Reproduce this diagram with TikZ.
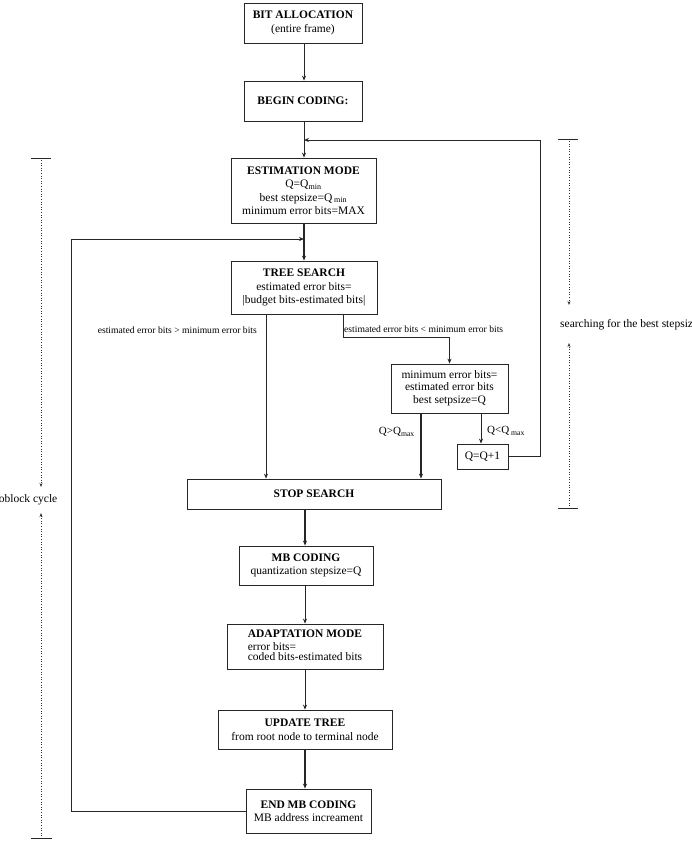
\documentclass[tikz,border=0pt]{standalone}
\usepackage{fontspec}
\setmainfont{Liberation Serif}
\usetikzlibrary{arrows.meta}
\begin{document}
\begin{tikzpicture}[x=1pt,y=-1pt,
  box/.style={draw=black!85, line width=0.8pt, align=center, inner sep=1pt,
    font=\fontsize{11.5}{13.5}\selectfont},
  flow/.style={draw=black!85, line width=0.8pt, -{Stealth[length=5pt,width=4pt]}},
  heavy/.style={flow, line width=1.1pt},
  plain/.style={draw=black!85, line width=0.8pt},
  lbl/.style={font=\fontsize{9.6}{11}\selectfont, inner sep=0pt},
  qlbl/.style={font=\fontsize{11}{13}\selectfont, inner sep=0pt},
  side/.style={font=\fontsize{11.5}{13.5}\selectfont, inner sep=0pt},
  brk/.style={draw=black!80, dotted, line width=0.6pt, -{Stealth[length=4pt,width=3pt]}},
  bar/.style={draw=black!85, line width=0.8pt}
]
\useasboundingbox (0,0) rectangle (691,849);
\clip (0,0) rectangle (691,849);

% boxes
\node[box, minimum width=118pt, minimum height=40pt] (bit) at (303,23)
  {\textbf{BIT ALLOCATION}\\(entire frame)};
\node[box, minimum width=118pt, minimum height=40pt] (begin) at (303,101)
  {\textbf{BEGIN CODING:}};
\node[box, minimum width=145pt, minimum height=65pt] (est) at (303.5,190.5)
  {\textbf{ESTIMATION MODE}\\Q=Q\textsubscript{min}\\best stepsize=Q\,\textsubscript{min}\\minimum error bits=MAX};
\node[box, minimum width=146pt, minimum height=53pt] (tree) at (304,287.5)
  {\textbf{TREE SEARCH}\\estimated error bits=\\|budget bits-estimated bits|};
\node[box, minimum width=117pt, minimum height=49pt] (minerr) at (449.5,388.5)
  {minimum error bits=\\[-2pt]estimated error bits\\best setpsize=Q};
\node[box, minimum width=51pt, minimum height=25pt] (qq) at (482.5,456.5)
  {Q=Q+1};
\node[box, minimum width=254pt, minimum height=30pt] (stop) at (314,494)
  {\textbf{STOP SEARCH}};
\node[box, minimum width=134pt, minimum height=39pt] (mb) at (306,565.5)
  {\textbf{MB CODING}\\quantization stepsize=Q};
\node[box, minimum width=156pt, minimum height=45pt] (adapt) at (305,646.5)
  {\begin{tabular}{@{}l@{}}\multicolumn{1}{@{}c@{}}{\textbf{ADAPTATION MODE}}\\[-1pt]error bits=\\[-3pt]coded bits-estimated bits\end{tabular}};
\node[box, minimum width=174pt, minimum height=39pt] (update) at (305,729.5)
  {\textbf{UPDATE TREE}\\from root node to terminal node};
\node[box, minimum width=125pt, minimum height=44pt] (end) at (308.5,811)
  {\textbf{END MB CODING}\\MB address increament};

% helper coordinates
\coordinate (cx) at (304,0);
\coordinate (lx) at (266,0);
\coordinate (rb) at (343,337);
\coordinate (qx1) at (421,0);
\coordinate (qx2) at (481,0);
\coordinate (rtop) at (540,140);
\coordinate (join1) at (304,140);
\coordinate (ltop) at (71,239);
\coordinate (join2) at (304,239);
\coordinate (sx) at (305,0);

% main flow
\draw[flow] (bit.south -| cx) -- (begin.north -| cx);
\draw[flow] (begin.south -| cx) -- (est.north -| cx);
\draw[heavy] (est.south -| cx) -- (tree.north -| cx);
\draw[flow] (tree.south -| lx) -- (stop.north -| lx);
\draw[flow] (tree.south -| rb) -- (rb) -| (minerr.north);
\draw[heavy] (minerr.south -| qx1) -- (stop.north -| qx1);
\draw[flow] (minerr.south -| qx2) -- (qq.north -| qx2);
\draw[heavy] (stop.south -| sx) -- (mb.north -| sx);
\draw[flow] (mb.south -| sx) -- (adapt.north -| sx);
\draw[flow] (adapt.south -| sx) -- (update.north -| sx);
\draw[heavy] (update.south -| sx) -- (end.north -| sx);

% loops
\draw[flow] (qq.east) -| (rtop) -- (join1);
\draw[flow] (end.west) -| (ltop) -- (join2);

% branch labels
\node[lbl, anchor=east] (l1) at (257,330) {estimated error bits > minimum error bits};
\node[lbl, anchor=west] (l2) at (344,329) {estimated error bits < minimum error bits};
\node[qlbl, anchor=east] (q1) at (415,432) {Q>Q\textsubscript{max}};
\node[qlbl, anchor=west] (q2) at (487,431) {Q<Q\,\textsubscript{max}};

% left bracket
\draw[bar] (31,158) -- (51,158);
\draw[bar] (31,838) -- (52,838);
\coordinate (lb1) at (41,160);
\coordinate (lb2) at (41,487);
\coordinate (lb3) at (41,513);
\coordinate (lb4) at (41,836);
\draw[brk] (lb1) -- (lb2);
\draw[brk] (lb4) -- (lb3);
\node[side, anchor=east] (lc) at (57.5,500) {macroblock cycle};

% right bracket
\draw[bar] (558,139) -- (578,139);
\draw[bar] (558,508) -- (578,508);
\coordinate (rb1) at (569,141);
\coordinate (rb2) at (569,305);
\coordinate (rb3) at (569,343);
\coordinate (rb4) at (569,506);
\draw[brk] (rb1) -- (rb2);
\draw[brk] (rb4) -- (rb3);
\node[side, anchor=west] (rc) at (560,325) {searching for the best stepsize};
\end{tikzpicture}
\end{document}
